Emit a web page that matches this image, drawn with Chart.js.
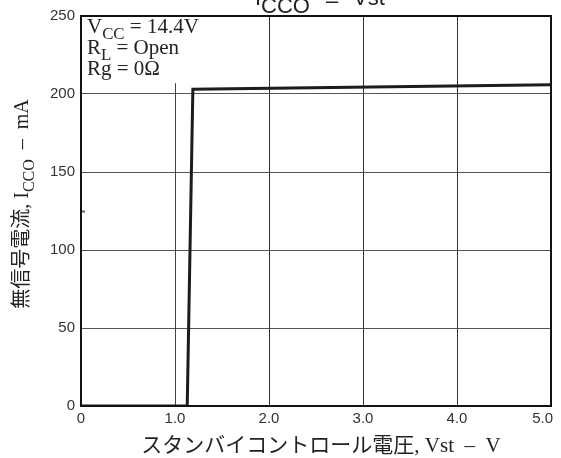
<!DOCTYPE html>
<html>
<head>
<meta charset="utf-8">
<script src="https://cdn.jsdelivr.net/npm/chart.js@4"></script>
<style>
  html, body { margin: 0; padding: 0; background: #fff; }
  #wrap { width: 561px; height: 458px; }
</style>
</head>
<body>
<div id="wrap"><canvas id="icco-plot"></canvas></div>
<script>
// Vst (V) vs. ICCO (mA)
var vstValues = [0, 1.13, 1.19, 5.0];
var iccoValues = [0, 0, 203, 206];
var xTicks = [0, 1, 2, 3, 4, 5];
var yTicks = [0, 50, 100, 150, 200, 250];

var SANS = "'Liberation Sans', Arial, sans-serif";
var SERIF = "'Liberation Serif', 'Noto Sans CJK JP', serif";

var points = vstValues.map(function (v, i) { return { x: v, y: iccoValues[i] }; });

// draws a run of text pieces, some of them as subscripts
function richText(ctx, parts, x, y, size, align) {
  var total = 0;
  parts.forEach(function (p) {
    ctx.font = (p.sub ? size * 0.8 : size) + "px " + p.family;
    p.w = ctx.measureText(p.t).width;
    total += p.w;
  });
  var cx = align === "center" ? x - total / 2 : x;
  parts.forEach(function (p) {
    ctx.font = (p.sub ? size * 0.8 : size) + "px " + p.family;
    ctx.fillText(p.t, cx, y + (p.sub ? size * 0.3 : 0));
    cx += p.w;
  });
}

var decorations = {
  id: "decorations",
  beforeDatasetsDraw: function (chart) {
    var ctx = chart.ctx, xs = chart.scales.x, ys = chart.scales.y;
    ctx.save();
    // the 1.0 grid line stops short of the top
    var gx = Math.round(xs.getPixelForValue(1)) + 0.5;
    ctx.strokeStyle = "#444";
    ctx.lineWidth = 1;
    ctx.beginPath();
    ctx.moveTo(gx, ys.getPixelForValue(207));
    ctx.lineTo(gx, ys.getPixelForValue(0));
    ctx.stroke();
    // small inward tick at 125
    var ty = Math.round(ys.getPixelForValue(125)) + 0.5;
    ctx.strokeStyle = "#666";
    ctx.lineWidth = 2;
    ctx.beginPath();
    ctx.moveTo(chart.chartArea.left, ty);
    ctx.lineTo(chart.chartArea.left + 4, ty);
    ctx.stroke();
    ctx.restore();
  },
  afterDraw: function (chart) {
    var ctx = chart.ctx, a = chart.chartArea;
    ctx.save();
    ctx.strokeStyle = "#111";
    ctx.lineWidth = 2;
    ctx.strokeRect(a.left, a.top, a.right - a.left, a.bottom - a.top);

    ctx.fillStyle = "#222";
    ctx.textBaseline = "alphabetic";
    ctx.textAlign = "left";

    // title, partly off the top edge
    ctx.font = "22px " + SANS;
    ctx.fillText("I", 255, 5);
    ctx.fillText("CCO", 261, 13);
    ctx.fillText("\u2013", 326, 8);
    ctx.fillText("Vst", 353, 5);

    // test conditions
    richText(ctx, [
      { t: "V", family: SERIF }, { t: "CC", family: SERIF, sub: true },
      { t: " = 14.4V", family: SERIF }
    ], a.left + 6, 33, 21, "left");
    richText(ctx, [
      { t: "R", family: SERIF }, { t: "L", family: SERIF, sub: true },
      { t: " = Open", family: SERIF }
    ], a.left + 6, 54, 21, "left");
    richText(ctx, [
      { t: "Rg = 0\u03A9", family: SERIF }
    ], a.left + 6, 75, 21, "left");

    // x axis title
    richText(ctx, [
      { t: "\u30B9\u30BF\u30F3\u30D0\u30A4\u30B3\u30F3\u30C8\u30ED\u30FC\u30EB\u96FB\u5727", family: SERIF },
      { t: ", Vst  \u2013  V", family: SERIF }
    ], 321, 452, 21, "center");

    // y axis title
    ctx.translate(28, 204);
    ctx.rotate(-Math.PI / 2);
    richText(ctx, [
      { t: "\u7121\u4FE1\u53F7\u96FB\u6D41, I", family: SERIF },
      { t: "CCO", family: SERIF, sub: true },
      { t: "  \u2013  mA", family: SERIF }
    ], 0, 0, 20, "center");
    ctx.restore();
  }
};

new Chart("icco-plot", {
  type: "line",
  data: {
    datasets: [{
      data: points,
      borderColor: "#1c1c1c",
      borderWidth: 3,
      pointRadius: 0,
      tension: 0,
      fill: false
    }]
  },
  options: {
    responsive: true,
    maintainAspectRatio: false,
    animation: false,
    layout: { padding: { top: 16, right: 10, left: 0, bottom: 0 } },
    plugins: {
      legend: { display: false },
      tooltip: { enabled: false }
    },
    scales: {
      x: {
        type: "linear",
        min: 0,
        max: 5,
        afterBuildTicks: function (scale) {
          scale.ticks = xTicks.map(function (v) { return { value: v }; });
        },
        afterFit: function (scale) {
          scale.height = 52;
          scale.paddingLeft = 0;
          scale.paddingRight = 0;
        },
        border: { display: false },
        grid: {
          drawTicks: false,
          color: function (c) {
            var v = c.tick ? c.tick.value : null;
            return (v === 0 || v === 1 || v === 5) ? "rgba(0,0,0,0)" : "#333";
          }
        },
        ticks: {
          padding: 4,
          color: "#333",
          font: { family: SANS, size: 15 },
          maxRotation: 0,
          // last label sits inside the right edge
          callback: function (v) {
            if (v === 0) return "0";
            return v === 5 ? "5.0    " : v.toFixed(1);
          }
        }
      },
      y: {
        min: 0,
        max: 250,
        afterBuildTicks: function (scale) {
          scale.ticks = yTicks.map(function (v) { return { value: v }; });
        },
        afterFit: function (scale) { scale.width = 81; },
        border: { display: false },
        grid: {
          drawTicks: false,
          color: function (c) {
            var v = c.tick ? c.tick.value : null;
            return (v === 0 || v === 250) ? "rgba(0,0,0,0)" : "#555";
          }
        },
        ticks: {
          padding: 6,
          color: "#333",
          font: { family: SANS, size: 15 }
        }
      }
    }
  },
  plugins: [decorations]
});
</script>
</body>
</html>
